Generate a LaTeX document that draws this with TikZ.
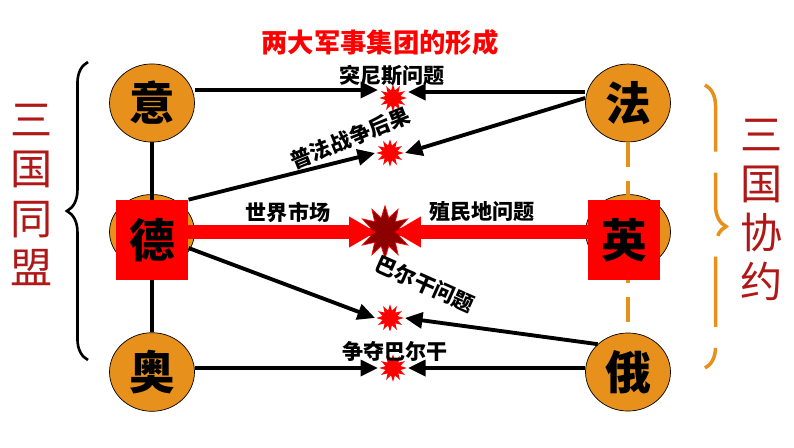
\documentclass[tikz,border=0pt]{standalone}
\usepackage{fontspec}
\setmainfont{Noto Sans CJK SC}
\usetikzlibrary{shapes.geometric,decorations.pathreplacing,arrows.meta}
\definecolor{ballorange}{HTML}{E8901C}
\definecolor{darkred}{HTML}{B01818}
\tikzset{
    ball/.style={ellipse,draw=black,fill=ballorange,minimum width=1.7cm,minimum height=1.5cm,font=\fontsize{26}{26}\selectfont\bfseries},
    redbox/.style={rectangle,fill=red,minimum width=1.45cm,minimum height=1.6cm,font=\fontsize{26}{26}\selectfont\bfseries},
    boom/.style={star,star points=12,star point ratio=1.8,fill=red,draw=none,minimum size=0.55cm,inner sep=0pt},
    tag/.style={font=\fontsize{12}{12}\selectfont\bfseries,inner sep=1pt},
    side/.style={font=\fontsize{24}{28}\selectfont,text=darkred,align=center},
    arr/.style={-{Triangle[length=10pt,width=9pt]},line width=2.2pt}
}
\begin{document}
\begin{tikzpicture}[x=0.02cm,y=-0.02cm]
\useasboundingbox (0,0) rectangle (794,447);

\node[font=\fontsize{15}{15}\selectfont\bfseries,text=red] (title) at (380,42) {两大军事集团的形成};

% countries
\node[ball] (yi) at (152,103) {意};
\node[ball] (de0) at (152,232) {};
\node[redbox] (de) at (152,240) {德};
\node[ball] (ao) at (152,372) {奥};
\node[ball] (fa) at (628,103) {法};
\node[ball] (ying0) at (628,232) {};
\node[ball] (e) at (628,372) {俄};
\draw[ballorange,line width=2.5pt,dash pattern=on 14pt off 8pt] (fa.south) -- (e.north);
\node[redbox] (ying) at (624,240) {英};

% links
\draw[line width=2.5pt] (yi.south) -- (de.north);
\draw[line width=2.5pt] (de.south) -- (ao.north);

% stars
\node[boom] (s1) at (393,98) {};
\node[boom] (s2) at (390,153) {};
\node[boom,fill=red!55!black,draw=red,minimum size=1.05cm] (s3) at (385,232) {};
\node[boom] (s4) at (390,318) {};
\node[boom] (s5) at (393,368) {};

\draw[arr] (yi.east |- 0,90) -- (s1.west |- 0,90);
\draw[arr] (fa.west |- 0,92) -- (s1.east |- 0,92);
\draw[arr] (fa.west |- 0,98) -- (s2.east);
\draw[arr] (de.north east) -- (s2.west);
\draw[red,line width=1pt,fill=red] (de.east |- 0,226) -- (350,226) -- (350,218) -- (374,232) -- (350,246) -- (350,238) -- (de.east |- 0,238) -- cycle;
\draw[red,line width=1pt,fill=red] (ying.west |- 0,226) -- (420,226) -- (420,218) -- (396,232) -- (420,246) -- (420,238) -- (ying.west |- 0,238) -- cycle;
\draw[arr] (de.east |- 0,248) -- (s4.west);
\draw[arr] (e.north west) -- (s4.east);
\draw[arr] (ao.east |- 0,368) -- (s5.west);
\draw[arr] (e.west |- 0,368) -- (s5.east);

% labels
\node[tag] (l1) at (392,76) {突尼斯问题};
\node[tag,rotate=22] (l2) at (350,138) {普法战争后果};
\node[tag] (l3) at (288,212) {世界市场};
\node[tag] (l4) at (482,212) {殖民地问题};
\node[tag,rotate=-24] (l5) at (425,284) {巴尔干问题};
\node[tag] (l6) at (395,351) {争夺巴尔干};

% groups
\draw[line width=1.5pt,decorate,decoration={brace,amplitude=12pt}] (88,360) -- (88,62);
\node[side] (g1) at (32,195) {三\\国\\同\\盟};
\draw[ballorange,line width=2pt,dash pattern=on 40pt off 12pt,decorate,decoration={brace,amplitude=12pt}] (705,85) -- (705,368);
\node[side] (g2) at (762,210) {三\\国\\协\\约};
\end{tikzpicture}
\end{document}
